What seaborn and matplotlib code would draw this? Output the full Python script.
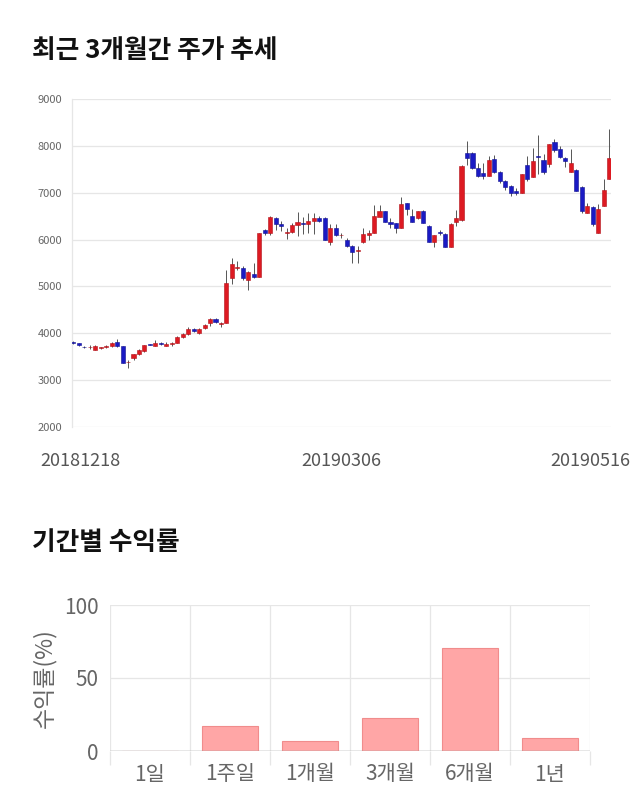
import numpy as np
import pandas as pd
import matplotlib
matplotlib.use("Agg")
import matplotlib.pyplot as plt
import matplotlib.transforms as mtrans
import seaborn as sns

# ---------------- data ----------------
opens = [3820, 3790, 3705, 3700, 3650, 3680, 3700, 3720, 3810, 3720,
         3380, 3470, 3560, 3620, 3770, 3730, 3800, 3730, 3780, 3800,
         3920, 3980, 4100, 4000, 4110, 4220, 4300, 4200, 4230, 5180,
         5390, 5400, 5130, 5270, 5210, 6200, 6140, 6450, 6330, 6150,
         6170, 6320, 6360, 6340, 6390, 6470, 6470, 5940, 6240, 6090,
         6000, 5870, 5760, 5950, 6090, 6150, 6490, 6600, 6380, 6350,
         6250, 6770, 6500, 6450, 6620, 6300, 5940, 6150, 6120, 5850,
         6380, 6410, 7850, 7850, 7530, 7430, 7360, 7730, 7450, 7260,
         7150, 7040, 7000, 7600, 7340, 7780, 7700, 7620, 8080, 7940,
         7750, 7450, 7490, 7130, 6570, 6700, 6150, 6720, 7300]
highs = [3830, 3800, 3730, 3740, 3740, 3710, 3760, 3810, 3870, 3730,
         3420, 3560, 3660, 3760, 3780, 3850, 3820, 3820, 3810, 3950,
         4000, 4130, 4110, 4110, 4200, 4320, 4320, 4240, 5350, 5600,
         5550, 5430, 5330, 5500, 6150, 6220, 6500, 6480, 6400, 6250,
         6350, 6580, 6480, 6560, 6560, 6500, 6480, 6330, 6340, 6150,
         6040, 5880, 5860, 6250, 6200, 6730, 6730, 6620, 6450, 6360,
         6900, 6780, 6650, 6620, 6630, 6310, 6100, 6200, 6130, 6350,
         6640, 7600, 8100, 7870, 7630, 7630, 7780, 7800, 7460, 7270,
         7160, 7090, 7400, 7790, 7960, 8240, 7820, 8040, 8140, 7990,
         7760, 7940, 7500, 7140, 6780, 6710, 6760, 7300, 8370]
lows = [3780, 3720, 3680, 3670, 3640, 3670, 3690, 3710, 3700, 3360,
        3250, 3430, 3540, 3600, 3740, 3720, 3740, 3720, 3730, 3790,
        3910, 3970, 4030, 3990, 4090, 4150, 4230, 4130, 4220, 5050,
        5350, 5130, 4930, 5180, 5200, 6100, 6100, 6200, 6180, 6020,
        6140, 6070, 6110, 6150, 6120, 6380, 5990, 5880, 6070, 6030,
        5850, 5510, 5510, 5930, 6000, 6140, 6480, 6370, 6250, 6130,
        6240, 6530, 6370, 6440, 6350, 5940, 5850, 6100, 5840, 5840,
        6300, 6400, 7600, 7500, 7330, 7300, 7350, 7430, 7200, 7060,
        6930, 6960, 6990, 7260, 7330, 7390, 7400, 7550, 7870, 7740,
        7540, 7440, 7030, 6560, 6560, 6280, 6140, 6710, 7290]
closes = [3790, 3760, 3700, 3705, 3720, 3700, 3730, 3800, 3720, 3370,
          3390, 3550, 3650, 3740, 3750, 3800, 3770, 3780, 3800, 3930,
          3980, 4100, 4050, 4100, 4180, 4300, 4250, 4230, 5070, 5470,
          5410, 5180, 5300, 5200, 6140, 6150, 6490, 6330, 6280, 6160,
          6320, 6370, 6340, 6390, 6460, 6400, 6000, 6240, 6090, 6095,
          5860, 5740, 5765, 6110, 6150, 6510, 6600, 6380, 6340, 6250,
          6750, 6660, 6380, 6600, 6360, 5950, 6090, 6140, 5850, 6340,
          6460, 7580, 7740, 7530, 7360, 7360, 7700, 7450, 7240, 7130,
          7000, 7000, 7390, 7300, 7680, 7770, 7450, 8030, 7920, 7770,
          7670, 7640, 7040, 6610, 6720, 6330, 6660, 7060, 7750]
date_labels = ["20181218", "20190306", "20190516"]
date_label_idx = [0, 49, 98]

periods = ["1일", "1주일", "1개월", "3개월", "6개월", "1년"]
returns = [0.0, 16.8, 6.8, 22.3, 70.5, 8.6]

# ---------------- style ----------------
sns.set_theme(style="white")
plt.rcParams['font.family'] = ['Noto Sans CJK KR', 'DejaVu Sans']
plt.rcParams['axes.unicode_minus'] = False

fig = plt.figure(figsize=(6.4, 8.1), dpi=100)
W, H = 640, 810

def rect(l, t, r, b):
    return [l / W, 1 - b / H, (r - l) / W, (b - t) / H]

GRID = '#e6e6e6'
TXT = '#666666'
RED = '#dd1a22'
BLUE = '#1a1ac4'

# ---------------- candlestick ----------------
ax1 = fig.add_axes(rect(72, 99, 610.5, 427))
df = pd.DataFrame({"o": opens, "h": highs, "l": lows, "c": closes})
df["i"] = np.arange(len(df))
df["up"] = df["c"] >= df["o"]
ax1.vlines(df["i"], df["l"], df["h"], color='#555555', lw=0.7, zorder=2)
bottoms = np.minimum(df["o"], df["c"])
heights = np.maximum(np.abs(df["c"] - df["o"]), 12)
cols = np.where(df["up"], RED, BLUE)
edges = np.where(df["up"], '#b01018', '#101090')
ax1.bar(df["i"], heights, bottom=bottoms, width=0.75, color=cols,
        edgecolor=edges, linewidth=0.4, zorder=3)
ax1.set_xlim(-0.25, 98.25)
ax1.set_ylim(2000, 9000)
ax1.set_yticks(range(2000, 9001, 1000))
ax1.yaxis.grid(True, color=GRID, lw=0.9)
ax1.set_axisbelow(True)
for s in ['top', 'right', 'bottom']:
    ax1.spines[s].set_visible(False)
ax1.spines['left'].set_color(GRID)
ax1.spines['left'].set_linewidth(0.9)
ax1.tick_params(axis='y', length=0, pad=7, labelsize=8, labelcolor=TXT)
ax1.set_xticks(date_label_idx)
ax1.set_xticklabels(date_labels)
ax1.tick_params(axis='x', length=0, pad=18, labelsize=13, labelcolor='#555555')
shifts = [7, 0, -19]
for lab, dx in zip(ax1.get_xticklabels(), shifts):
    lab.set_transform(lab.get_transform() +
                      mtrans.ScaledTranslation(dx / 100, 0, fig.dpi_scale_trans))

fig.text(32 / W, 1 - 51 / H, "최근 3개월간 주가 추세", fontsize=18.5,
         fontweight='bold', color='#111111', va='center', ha='left')
fig.text(32 / W, 1 - 543 / H, "기간별 수익률", fontsize=18.5,
         fontweight='bold', color='#111111', va='center', ha='left')

# ---------------- returns bar chart ----------------
ax2 = fig.add_axes(rect(110, 605, 590, 751))
bdf = pd.DataFrame({"period": periods, "ret": returns})
sns.barplot(data=bdf, x="period", y="ret", ax=ax2, color='#ffa6a6',
            saturation=1, width=0.7, edgecolor='#f08c8c', linewidth=0.8)
ax2.set_ylim(0, 100)
ax2.set_xlim(-0.5, len(periods) - 0.5)
ax2.set_yticks([0, 50, 100])
ax2.yaxis.grid(True, color=GRID, lw=0.9)
ax2.set_xticks(np.arange(-0.5, len(periods), 1.0), minor=True)
ax2.xaxis.grid(True, which='minor', color=GRID, lw=0.9)
ax2.set_axisbelow(True)
for s in ['top', 'right', 'bottom', 'left']:
    ax2.spines[s].set_visible(False)
ax2.axhline(0, color='#9a9a9a', lw=1.0, zorder=4)
ax2.tick_params(axis='x', which='minor', length=10, color=GRID, width=0.9,
                direction='out', bottom=True)
ax2.tick_params(axis='x', which='major', length=0, pad=9, labelsize=15,
                labelcolor=TXT)
ax2.tick_params(axis='y', length=0, pad=8, labelsize=15, labelcolor=TXT)
ax2.set_xlabel("")
ax2.set_ylabel("수익률(%)", fontsize=16.5, color=TXT, labelpad=6)

fig.savefig("out.png", dpi=100, facecolor='white')
